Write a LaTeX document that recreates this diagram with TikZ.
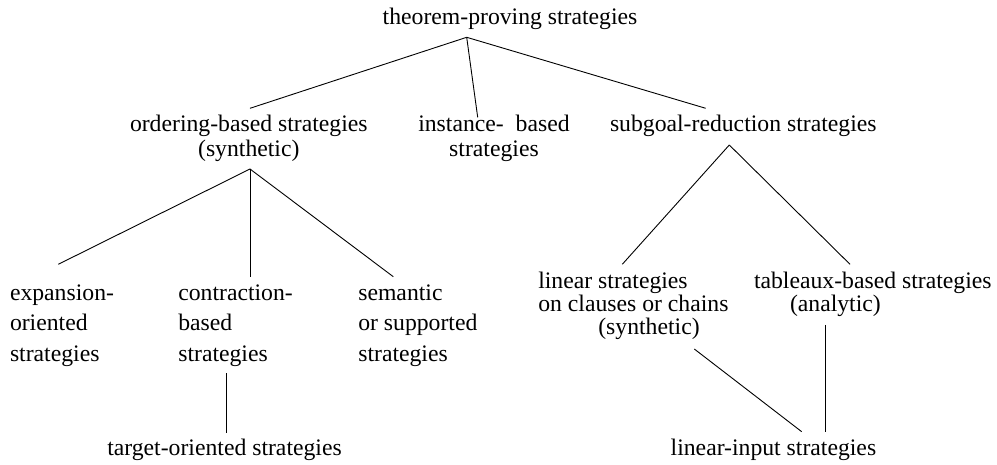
\documentclass[tikz,border=0pt]{standalone}
\usepackage{fontspec}
\setmainfont{Liberation Serif}
\usetikzlibrary{calc}
\begin{document}
\begin{tikzpicture}[x=1pt,y=-1pt,
  lbl/.style={inner sep=0pt,outer sep=0pt,anchor=base west,font=\fontsize{23.7}{25}\selectfont},
  lblwide/.style={lbl,font=\fontsize{23.7}{30.9}\selectfont},
  lbltight/.style={lbl,font=\fontsize{23.7}{23.35}\selectfont},
  edge/.style={line width=0.9pt,black}]
\useasboundingbox (0,0) rectangle (997,465);
% nodes (base anchor = baseline of the last line)
\node[lbl] (top) at (382.7,25) {theorem-proving strategies};
\node[lbl,align=center] (ord) at (130,156.7) {ordering-based strategies\\(synthetic)};
\node[lbl,align=center] (inst) at (418.3,156.7) {instance-\ \ based\\strategies};
\node[lbl] (sub) at (610,131.7) {subgoal-reduction strategies};
\node[lblwide,align=left] (exp) at (10,361.8) {expansion-\\oriented\\strategies};
\node[lblwide,align=left] (con) at (178.3,361.8) {contraction-\\based\\strategies};
\node[lblwide,align=left] (sem) at (358.3,361.8) {semantic\\or supported\\strategies};
\node[lbl] (tgt) at (107.3,455) {target-oriented strategies};
\node[lbltight,align=left] (lin) at (538.3,335) {linear strategies\\on clauses or chains\\\hspace*{60pt}(synthetic)};
\node[lbltight,align=left] (tab) at (754,311.7) {tableaux-based strategies\\\hspace*{36pt}(analytic)};
\node[lbl] (li) at (670.7,455) {linear-input strategies};
% connectors
\draw[edge] ($(top.base west)+(84,12.3)$) -- ($(ord.base west)+(120,-48.4)$);
\draw[edge] ($(top.base west)+(84,12.3)$) -- ($(inst.base west)+(59.4,-39.4)$);
\draw[edge] ($(top.base west)+(84,12.3)$) -- ($(sub.base west)+(95.7,-23.4)$);
\draw[edge] ($(ord.base west)+(120,12.3)$) -- ($(exp.base west)+(48.3,-97.5)$);
\draw[edge] ($(ord.base west)+(120,12.3)$) -- ($(con.base west)+(71.7,-85.1)$);
\draw[edge] ($(ord.base west)+(120,12.3)$) -- ($(sem.base west)+(35,-85.1)$);
\draw[edge] ($(con.base west)+(47.7,11.5)$) -- ($(tgt.base west)+(118.7,-22.3)$);
\draw[edge] ($(sub.base west)+(119.3,13.3)$) -- ($(lin.base west)+(84,-70.7)$);
\draw[edge] ($(sub.base west)+(119.3,13.3)$) -- ($(tab.base west)+(96,-47.4)$);
\draw[edge] ($(lin.base west)+(156,14)$) -- ($(li.base west)+(131,-23.3)$);
\draw[edge] ($(tab.base west)+(71.7,13.3)$) -- ($(li.base west)+(155,-22.7)$);
\end{tikzpicture}
\end{document}
